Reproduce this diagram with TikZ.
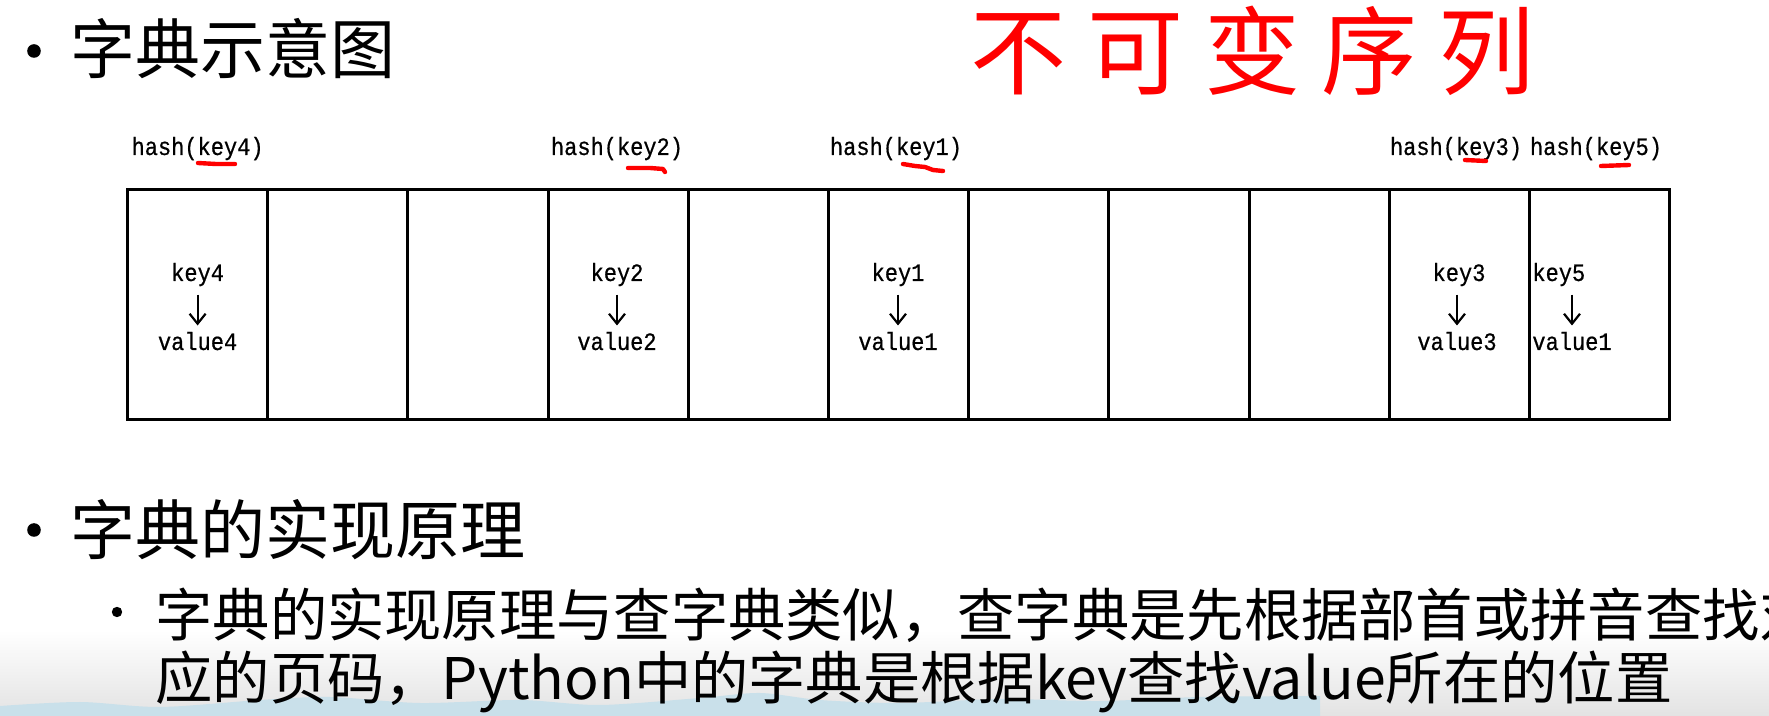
\documentclass[tikz,border=0pt]{standalone}
\usepackage{fontspec}
\newfontfamily\cjk{Noto Sans CJK SC}
\newfontfamily\handf[LetterSpace=22]{Noto Sans CJK SC}
\newfontfamily\monof[FakeStretch=0.88,FakeBold=0.6]{Liberation Mono}
\usetikzlibrary{arrows.meta}
\definecolor{bandblue}{HTML}{C9E0EA}
\tikzset{
  cellbox/.style={draw, line width=1.5pt, inner sep=0pt, outer sep=0pt,
    minimum width=70.1pt, minimum height=115pt},
  mlabel/.style={font=\monof\fontsize{12.5pt}{14pt}\selectfont, inner sep=0pt, anchor=base},
  kv/.style={-{Straight Barb[length=5pt,width=8pt]}, line width=1.1pt},
  redmark/.style={red, line width=2.2pt, line cap=round, line join=round},
  titletext/.style={font=\cjk\fontsize{32.5pt}{39pt}\selectfont, inner sep=0pt, anchor=base west},
  bodytext/.style={font=\cjk\fontsize{28.65pt}{34pt}\selectfont, inner sep=0pt, anchor=base west},
  handtext/.style={font=\handf\fontsize{48pt}{52pt}\selectfont, text=red, inner sep=0pt, anchor=base west},
}
\begin{document}
\begin{tikzpicture}[x=0.5pt,y=-0.5pt]
\useasboundingbox (0,0) rectangle (1769,716);
\clip (0,0) rectangle (1769,716);
% background shading and bottom band
\shade[top color=white, bottom color=black!11] (0,630) rectangle (1769,716);
\fill[bandblue] plot[smooth] coordinates {(0,706) (80,702) (160,707) (260,700) (330,697) (420,703) (520,700) (600,705) (700,698) (760,693) (820,700) (900,703) (1000,699) (1100,701) (1200,697) (1320,696)} -- (1320,716) -- (0,716) -- cycle;

% handwritten note
\node[handtext] (note) at (970,88) {不可变序列};

% headings
\fill (34,51) circle[radius=3.4pt];
\node[titletext] (t1) at (70,74) {字典示意图};
\fill (34,530) circle[radius=3.4pt];
\node[titletext] (t2) at (70,555) {字典的实现原理};
\fill (117,612) circle[radius=2.6pt];
\node[bodytext] (b1) at (155,636.5) {字典的实现原理与查字典类似，查字典是先根据部首或拼音查找对};
\node[bodytext] (b2) at (155,699.5) {应的页码，Python中的字典是根据key查找value所在的位置};

% table cells
\foreach \i in {1,...,11}
  \node[cellbox] (c\i) at ({127.5+140.2*(\i-0.5)},305) {};

% hash labels
\node[mlabel] (h4) at (197.6,155) {hash(key4)};
\node[mlabel] (h2) at (617,155) {hash(key2)};
\node[mlabel] (h1) at (896,155) {hash(key1)};
\node[mlabel] (h3) at (1456,155) {hash(key3)};
\node[mlabel] (h5) at (1596,155) {hash(key5)};

% red underlines
\draw[redmark] (198,163) -- (216,164) -- (235,164);
\draw[redmark] (628,168) -- (650,168) -- (663,169) -- (665,172);
\draw[redmark] (903,164) -- (915,166) -- (925,167) -- (933,170) -- (943,171);
\draw[redmark] (1465,160) -- (1486,161);
\draw[redmark] (1601,166) -- (1629,165);

% key -> value inside cells
\node[mlabel] (k4) at (197.6,281) {key4};
\node[mlabel] (v4) at (197.6,350) {value4};
\node[mlabel] (k2) at (617,281) {key2};
\node[mlabel] (v2) at (617,350) {value2};
\node[mlabel] (k1) at (898,281) {key1};
\node[mlabel] (v1) at (898,350) {value1};
\node[mlabel, anchor=base] (k3) at (1459,281) {key3};
\node[mlabel] (v3) at (1457,350) {value3};
\node[mlabel, anchor=base west] (k5) at (1532,281) {key5};
\node[mlabel, anchor=base west] (v5) at (1532,350) {value1};

\foreach \k in {4,2,1,3,5}
  \draw[kv, shorten <=4pt, shorten >=3pt] (k\k.south -| v\k.north) -- (v\k.north);
\end{tikzpicture}
\end{document}
